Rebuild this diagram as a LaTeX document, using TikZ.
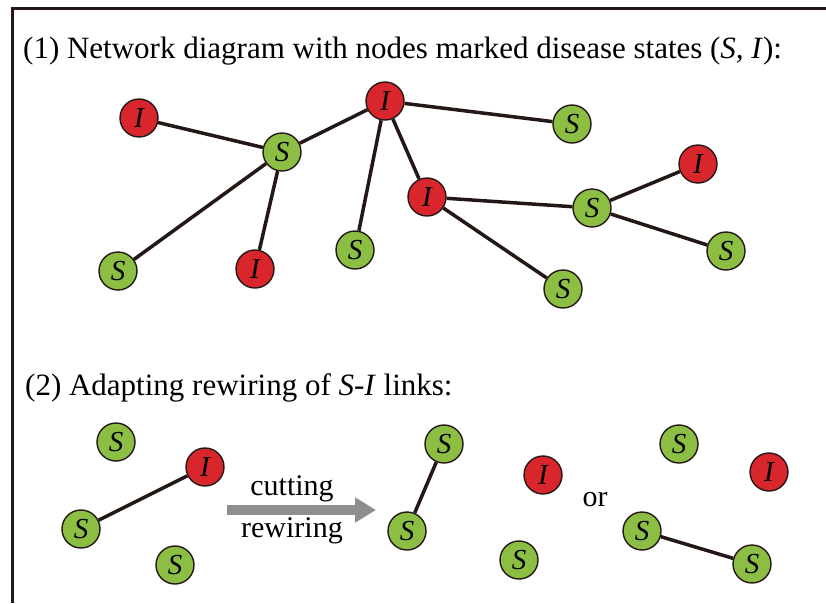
\documentclass[tikz,border=0pt]{standalone}
\usepackage{fontspec}
\setmainfont{Liberation Serif}
\usetikzlibrary{arrows.meta}
\definecolor{infred}{HTML}{D8262C}
\definecolor{susgreen}{HTML}{8BBE43}
\definecolor{edgecol}{HTML}{231815}
\definecolor{arrgray}{HTML}{8E8E8E}
\tikzset{
  every node/.style={font=\fontsize{31}{36}\selectfont},
  agent/.style={circle, draw=edgecol, line width=1.4pt, minimum size=38pt, inner sep=0pt,
    font=\fontsize{29}{32}\selectfont\itshape},
  sus/.style={agent, fill=susgreen},
  inf/.style={agent, fill=infred},
  link/.style={draw=edgecol, line width=3.5pt},
  heading/.style={anchor=base west, inner sep=0pt},
}
\begin{document}
\begin{tikzpicture}[x=1pt, y=-1pt]
\useasboundingbox (0,0) rectangle (826,603);
\coordinate (bTR) at (826,8);
\coordinate (bTL) at (12,8);
\coordinate (bBL) at (12,603);
\draw[draw=edgecol, line width=3pt] (bTR) -- (bTL) -- (bBL);

\node[heading] (t1) at (23,58) {(1) Network diagram with nodes marked disease states (\textit{S, I}):};
\node[heading] (t2) at (25,395) {(2) Adapting rewiring of \textit{S}-\textit{I} links:};

% part 1
\node[inf] (i1) at (139,118) {I};
\node[sus] (s1) at (282,152) {S};
\node[inf] (i2) at (385,101) {I};
\node[sus] (s2) at (572,124) {S};
\node[inf] (i3) at (427,197) {I};
\node[sus] (s3) at (592,208) {S};
\node[inf] (i4) at (698,164) {I};
\node[sus] (s4) at (726,251) {S};
\node[sus] (s5) at (563,289) {S};
\node[sus] (s6) at (355,250) {S};
\node[inf] (i5) at (255,269) {I};
\node[sus] (s7) at (118,271) {S};

\foreach \a/\b in {i1/s1, s1/i2, s1/s7, s1/i5, i2/s2, i2/s6, i2/i3, i3/s3, i3/s5, s3/i4, s3/s4}
  \draw[link] (\a) -- (\b);

% part 2, left
\node[sus] (a1) at (116,442) {S};
\node[inf] (a2) at (205,467) {I};
\node[sus] (a3) at (81,529) {S};
\node[sus] (a4) at (175,565) {S};
\draw[link] (a2) -- (a3);

% arrow
\coordinate (arrS) at (227,510);
\coordinate (arrE) at (376,510);
\draw[arrgray, line width=10pt, -{Triangle[length=21pt, width=24pt]}] (arrS) -- (arrE);
\node[anchor=base, inner sep=0pt, font=\fontsize{30}{34}\selectfont] (cut) at (292,495) {cutting};
\node[anchor=base, inner sep=0pt, font=\fontsize{30}{34}\selectfont] (rew) at (292,537) {rewiring};

% part 2, middle
\node[sus] (b1) at (444,444) {S};
\node[sus] (b2) at (407,531) {S};
\node[inf] (b3) at (543,475) {I};
\node[sus] (b4) at (519,560) {S};
\draw[link] (b1) -- (b2);

\node[font=\fontsize{30}{34}\selectfont] (or) at (595,500) {or};

% part 2, right
\node[sus] (c1) at (679,444) {S};
\node[inf] (c2) at (769,472) {I};
\node[sus] (c3) at (642,531) {S};
\node[sus] (c4) at (752,564) {S};
\draw[link] (c3) -- (c4);
\end{tikzpicture}
\end{document}
